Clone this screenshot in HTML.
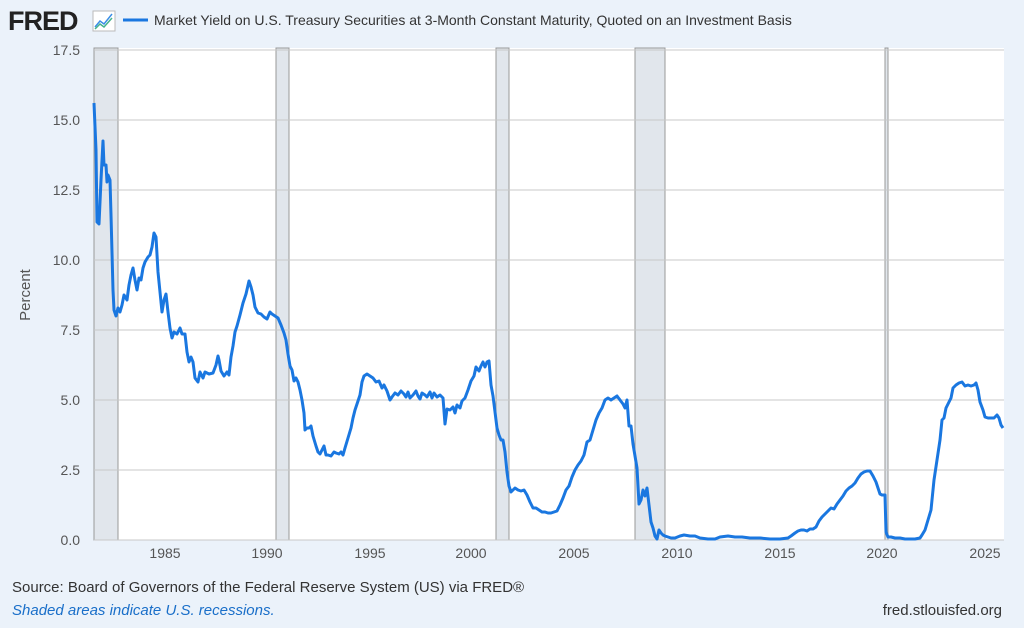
<!DOCTYPE html>
<html><head><meta charset="utf-8"><style>
body{margin:0;width:1024px;height:623px;background:#ebf2fa;font-family:"Liberation Sans",sans-serif;overflow:hidden}
</style></head><body>
<svg width="1024" height="623" xmlns="http://www.w3.org/2000/svg" font-family="Liberation Sans, sans-serif">
<rect width="1024" height="623" fill="#ebf2fa"/>
<text x="8" y="30" font-size="27" font-weight="bold" fill="#222" letter-spacing="-1">FRED</text>
<rect x="93" y="11" width="22" height="20" fill="#fff" stroke="#bbb"/>
<polyline points="95,27 100,21 104,24 112,14" fill="none" stroke="#3a8ee6" stroke-width="1.5"/>
<polyline points="95,29 100,24 104,27 112,18" fill="none" stroke="#46b38c" stroke-width="1.5"/>
<line x1="123" y1="20" x2="148" y2="20" stroke="#1a77e0" stroke-width="3"/>
<text x="154" y="25" font-size="14" fill="#333">Market Yield on U.S. Treasury Securities at 3-Month Constant Maturity, Quoted on an Investment Basis</text>
<rect x="94" y="48" width="910" height="492" fill="#fff"/>
<g fill="#e1e6ec" stroke="#999" stroke-width="1">
<rect x="94" y="48" width="24" height="492"/>
<rect x="276" y="48" width="13" height="492"/>
<rect x="496" y="48" width="13" height="492"/>
<rect x="635" y="48" width="30" height="492"/>
<rect x="885" y="48" width="3" height="492"/>
</g>
<g stroke="#c8c8c8" stroke-width="1">
<line x1="94" y1="50" x2="1004" y2="50"/>
<line x1="94" y1="120" x2="1004" y2="120"/>
<line x1="94" y1="190" x2="1004" y2="190"/>
<line x1="94" y1="260" x2="1004" y2="260"/>
<line x1="94" y1="330" x2="1004" y2="330"/>
<line x1="94" y1="400" x2="1004" y2="400"/>
<line x1="94" y1="470" x2="1004" y2="470"/>
<line x1="94" y1="540" x2="1004" y2="540"/>
</g>
<g font-size="14" fill="#555" text-anchor="end">
<text x="80" y="55">17.5</text><text x="80" y="125">15.0</text><text x="80" y="195">12.5</text>
<text x="80" y="265">10.0</text><text x="80" y="335">7.5</text><text x="80" y="405">5.0</text>
<text x="80" y="475">2.5</text><text x="80" y="545">0.0</text>
</g>
<g font-size="14" fill="#555" text-anchor="middle">
<text x="165" y="558">1985</text><text x="267" y="558">1990</text><text x="370" y="558">1995</text>
<text x="471" y="558">2000</text><text x="574" y="558">2005</text><text x="677" y="558">2010</text>
<text x="780" y="558">2015</text><text x="882" y="558">2020</text><text x="985" y="558">2025</text>
</g>
<text transform="translate(30,295) rotate(-90)" font-size="15" fill="#555" text-anchor="middle">Percent</text>
<polyline fill="none" stroke="#1a77e0" stroke-width="3" stroke-linejoin="round" points="94,103 96,150 97,222 99,224 101,180 103,141 104,165 106,165 107,182 108,175 110,180 111,215 113,290 114,310 116,316 118,308 120,312 122,305 124,295 127,300 129,285 131,275 133,268 135,280 137,290 139,278 141,280 143,268 145,262 148,257 150,255 152,247 154,233 156,237 158,272 160,292 162,312 164,300 166,294 168,312 170,328 172,338 174,332 177,334 180,328 182,334 185,334 187,352 189,362 191,357 193,362 195,378 198,382 200,372 203,378 205,372 209,374 213,373 216,365 218,356 219,360 221,371 224,376 227,372 229,375 231,357 233,346 235,332 237,326 240,315 243,303 246,294 249,281 251,287 253,295 255,307 258,313 261,314 264,317 267,319 270,312 272,314 275,316 278,318 281,325 284,333 286,340 288,354 290,366 292,370 294,381 296,378 298,382 300,390 302,400 304,413 305,430 307,428 309,428 311,426 313,436 316,446 318,452 320,454 322,450 324,446 326,455 328,455 331,456 334,452 336,453 339,454 341,452 343,455 345,448 348,438 351,428 353,418 355,410 357,404 360,395 362,382 364,376 367,374 370,376 373,378 376,382 379,381 382,388 384,385 387,391 390,400 392,397 395,393 398,395 401,391 404,394 406,397 408,392 410,398 413,395 416,391 418,396 420,399 422,393 425,395 427,397 430,392 432,398 434,393 437,397 440,395 443,398 445,424 447,409 450,410 453,407 455,413 457,405 460,408 462,401 465,398 468,390 471,381 474,376 476,367 479,371 481,366 483,362 485,367 487,362 489,361 491,385 493,396 495,412 497,428 499,435 501,440 503,440 505,452 507,472 509,486 511,492 513,490 515,488 518,490 521,491 524,490 527,495 530,502 533,508 536,508 539,510 542,512 545,512 548,513 551,513 554,512 557,511 560,505 563,498 566,490 569,486 572,477 575,470 578,465 581,461 584,455 587,442 590,440 593,430 596,420 599,413 602,408 605,400 608,398 611,400 614,398 617,396 620,400 623,404 625,408 627,400 629,426 631,426 633,444 635,456 637,468 639,504 641,500 643,490 645,496 647,488 649,505 651,522 653,528 655,536 657,539 659,530 661,533 663,535 665,536 668,537 671,538 675,538 680,536 684,535 690,536 695,536 700,538 708,539 715,539 720,537 728,536 735,537 742,537 750,538 760,538 770,539 780,539 788,538 791,536 795,533 798,531 801,530 804,530 807,531 810,529 813,529 816,527 819,521 822,517 825,514 828,511 831,508 834,509 837,504 840,500 843,496 846,491 849,488 852,486 855,483 858,478 861,474 864,472 867,471 870,471 873,476 876,482 878,488 880,494 882,495 885,495 886,532 888,537 891,537 895,538 900,538 905,539 910,539 915,539 920,538 922,535 925,530 928,520 931,510 934,480 937,460 940,440 942,420 944,418 946,408 949,402 951,398 953,388 956,385 959,383 962,382 965,386 968,385 971,386 974,385 976,383 978,390 980,402 983,410 985,417 988,418 991,418 994,418 997,415 999,418 1001,425 1003,428"/>
<text x="12" y="592" font-size="15" fill="#333">Source: Board of Governors of the Federal Reserve System (US) via FRED®</text>
<text x="12" y="615" font-size="15" fill="#1a6fc9" font-style="italic">Shaded areas indicate U.S. recessions.</text>
<text x="1002" y="615" font-size="15" fill="#333" text-anchor="end">fred.stlouisfed.org</text>
</svg>
</body></html>
